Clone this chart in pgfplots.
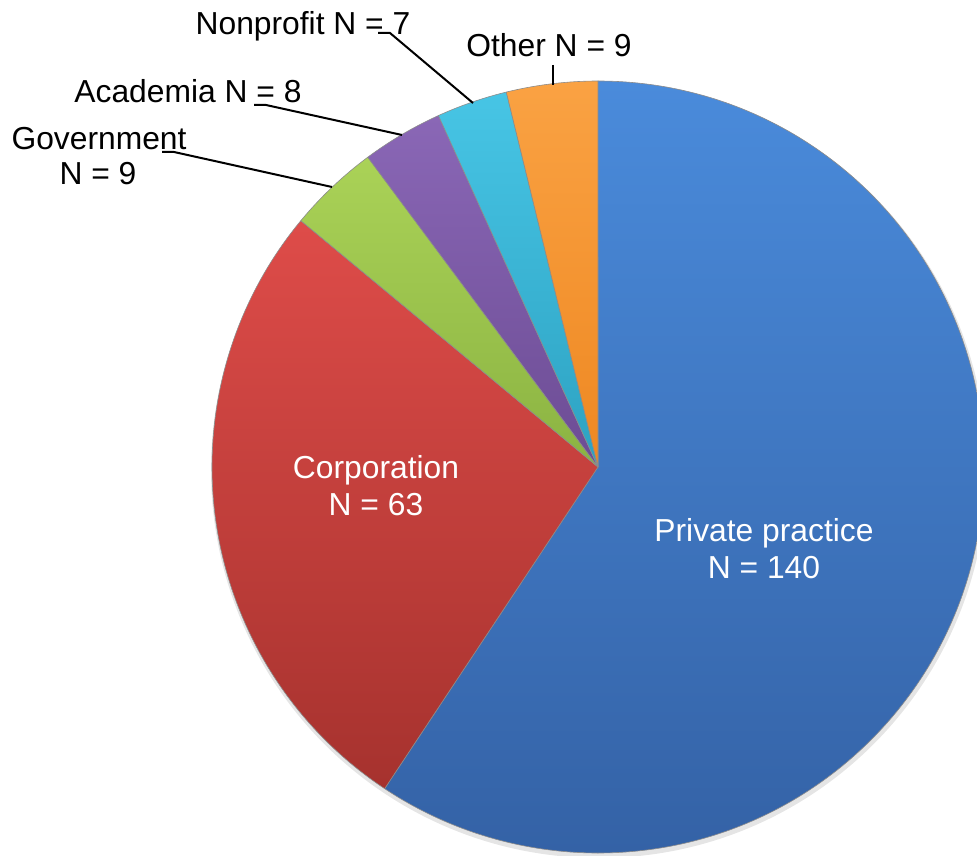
\documentclass[border=0pt]{standalone}
\usepackage{pgfplots}
\pgfplotsset{compat=1.18}
\usepackage{fontspec}
\setmainfont{Liberation Sans}
\definecolor{blueT}{HTML}{4A8BDB}
\definecolor{blueB}{HTML}{3462A6}
\definecolor{redT}{HTML}{DE4C49}
\definecolor{redB}{HTML}{A6322E}
\definecolor{greenT}{HTML}{AAD257}
\definecolor{greenB}{HTML}{8BB342}
\definecolor{purpleT}{HTML}{8A67B6}
\definecolor{purpleB}{HTML}{6C4C94}
\definecolor{cyanT}{HTML}{47C5E5}
\definecolor{cyanB}{HTML}{2DA2C2}
\definecolor{orangeT}{HTML}{FAA243}
\definecolor{orangeB}{HTML}{EE8822}
\begin{document}
\begin{tikzpicture}
\begin{axis}[hide axis, scale only axis, width=977pt, height=855pt,
  xmin=0, xmax=977, ymin=0, ymax=855, clip=true]
\path (axis cs:0,0) rectangle (axis cs:977,855);
% shadow
\fill[black, opacity=0.10] (axis cs:599,385) circle[radius=388pt];
\pgfmathsetmacro\total{140+63+9+8+7+9}
\gdef\cura{90}
\foreach \v/\ct/\cb in {140/blueT/blueB, 63/redT/redB, 9/greenT/greenB, 8/purpleT/purpleB, 7/cyanT/cyanB, 9/orangeT/orangeB} {
  \pgfmathsetmacro\b{\cura-\v/\total*360}
  \edef\temp{\noexpand\path[top color=\ct, bottom color=\cb, draw=black!45, line width=0.6pt, line join=round] (axis cs:598,388) -- ++(\cura:386pt) arc[start angle=\cura, end angle=\b, radius=386pt] -- cycle;}
  \temp
  \global\let\cura\b
}
% leader lines
\draw[black, line width=2pt] (axis cs:378,822) -- (axis cs:390,822) -- (axis cs:473,752);
\draw[black, line width=2pt] (axis cs:254,750) -- (axis cs:266,750) -- (axis cs:402,720);
\draw[black, line width=2pt] (axis cs:162,703) -- (axis cs:174,703) -- (axis cs:332,668);
\draw[black, line width=2pt] (axis cs:553,790) -- (axis cs:553,770);
% labels
\tikzset{lab/.style={anchor=base, inner sep=0pt, font=\fontsize{31.8}{36}\selectfont}}
\node[lab] at (axis cs:303,820) {Nonprofit N = 7};
\node[lab] at (axis cs:549,798) {Other N = 9};
\node[lab] at (axis cs:188,752) {Academia N = 8};
\node[lab] at (axis cs:99,705) {Government};
\node[lab] at (axis cs:98,670) {N = 9};
\node[lab, text=white] at (axis cs:376,376) {Corporation};
\node[lab, text=white] at (axis cs:376,340) {N = 63};
\node[lab, text=white] at (axis cs:764,313) {Private practice};
\node[lab, text=white] at (axis cs:764,277) {N = 140};
\end{axis}
\end{tikzpicture}
\end{document}
